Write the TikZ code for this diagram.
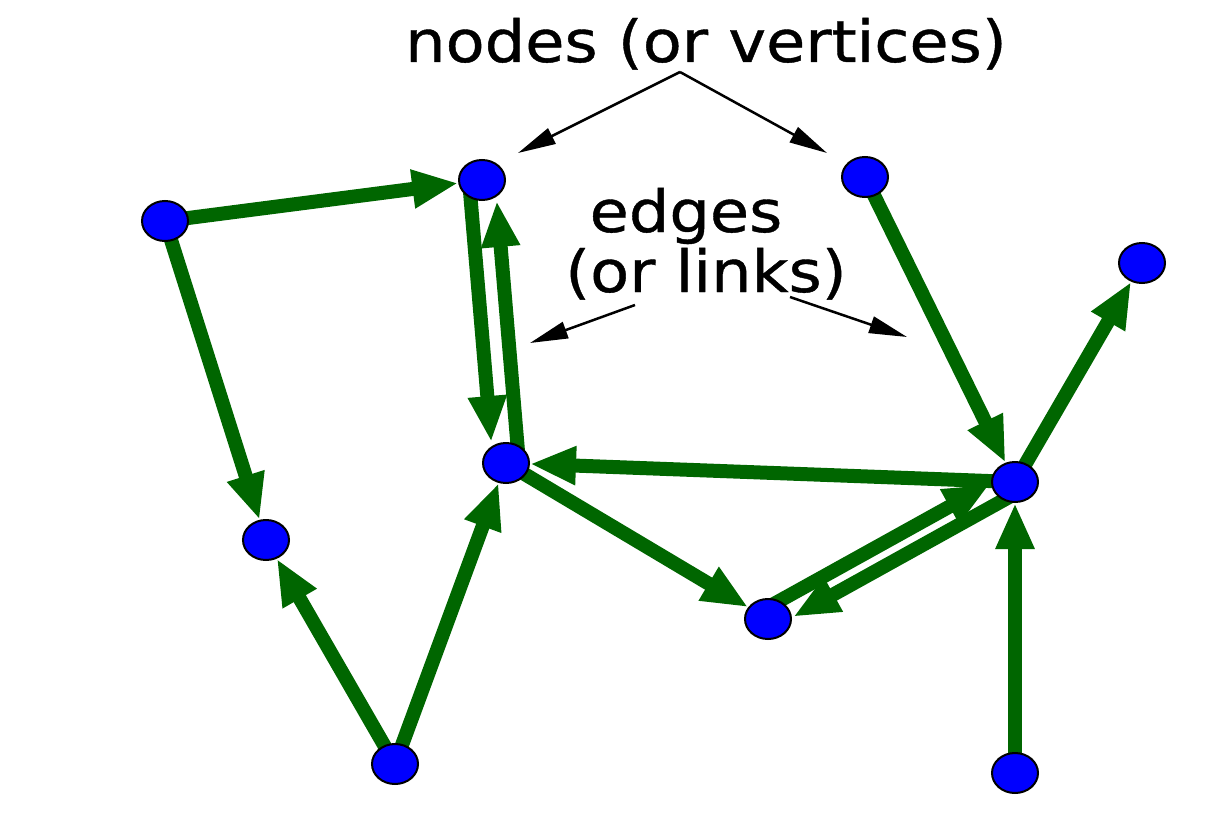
\documentclass[tikz,border=0pt]{standalone}
\usepackage{fontspec}
\newfontfamily\labelfont[FakeStretch=1.1, FakeBold=0.7]{DejaVu Sans}
\usetikzlibrary{arrows.meta,shapes.geometric,backgrounds}
\definecolor{linkgreen}{RGB}{0,102,0}
\definecolor{vertexblue}{RGB}{0,0,255}

\begin{document}
\begin{tikzpicture}[x=1pt, y=-1pt]
    \tikzset{
        v/.style={ellipse, draw=black, line width=2pt, fill=vertexblue, minimum width=46pt, minimum height=40pt, inner sep=0pt},
        link/.style={draw=linkgreen, line width=14pt, -{Triangle[width=36pt, length=46pt]}},
        pointer/.style={draw=black, line width=2.5pt, -{Triangle[width=17pt, length=38pt]}},
        lbl/.style={font=\labelfont\fontsize{58}{60}\selectfont, inner sep=0pt, anchor=base}
        }
    \useasboundingbox (0,0) rectangle (1225,816);

    %vertices
    \node (farleft) [v] at (165,221) {};
    \node (top) [v] at (482,180) {};
    \node (topright) [v] at (865,177) {};
    \node (right) [v] at (1142,263) {};
    \node (center) [v] at (506,463) {};
    \node (hub) [v] at (1015,482) {};
    \node (left) [v] at (266,540) {};
    \node (dip) [v] at (768,619) {};
    \node (bottom) [v] at (395,764) {};
    \node (base) [v] at (1015,773) {};

    %labels
    \node (nodeslbl) [lbl] at (706,62) {nodes (or vertices)};
    \node (edgeslbl) [lbl] at (686,232) {edges};
    \node (linkslbl) [lbl] at (706,292) {(or links)};

    %pointer ends
    \coordinate (apex) at (680,72);
    \coordinate (ptrtop) at (518,153);
    \coordinate (ptrtopright) at (827,153);
    \coordinate (fromleft) at (635,305);
    \coordinate (ptrleft) at (530,343);
    \coordinate (fromright) at (790,297);
    \coordinate (ptrright) at (907,337);

    \draw[pointer] (apex) -- (ptrtop);
    \draw[pointer] (apex) -- (ptrtopright);
    \draw[pointer] (fromleft) -- (ptrleft);
    \draw[pointer] (fromright) -- (ptrright);

    %edges
    \begin{pgfonlayer}{background}
    \draw[link] (farleft.center) -- (top);
    \draw[link] (farleft.center) -- (left);
    \draw[link, transform canvas={xshift=-13pt}] (top.center) -- (center);
    \draw[link, transform canvas={xshift=13pt}] (center.center) -- (top);
    \draw[link] (topright.center) -- (hub);
    \draw[link] (hub.center) -- (right);
    \draw[link] (hub.center) -- (center);
    \draw[link] (center.center) -- (dip);
    \draw[link, transform canvas={xshift=-5pt, yshift=9pt}] (dip.center) -- (hub);
    \draw[link, transform canvas={xshift=5pt, yshift=-9pt}] (hub.center) -- (dip);
    \draw[link] (bottom.center) -- (left);
    \draw[link] (bottom.center) -- (center);
    \draw[link] (base.center) -- (hub);
    \end{pgfonlayer}
\end{tikzpicture}
\end{document}
